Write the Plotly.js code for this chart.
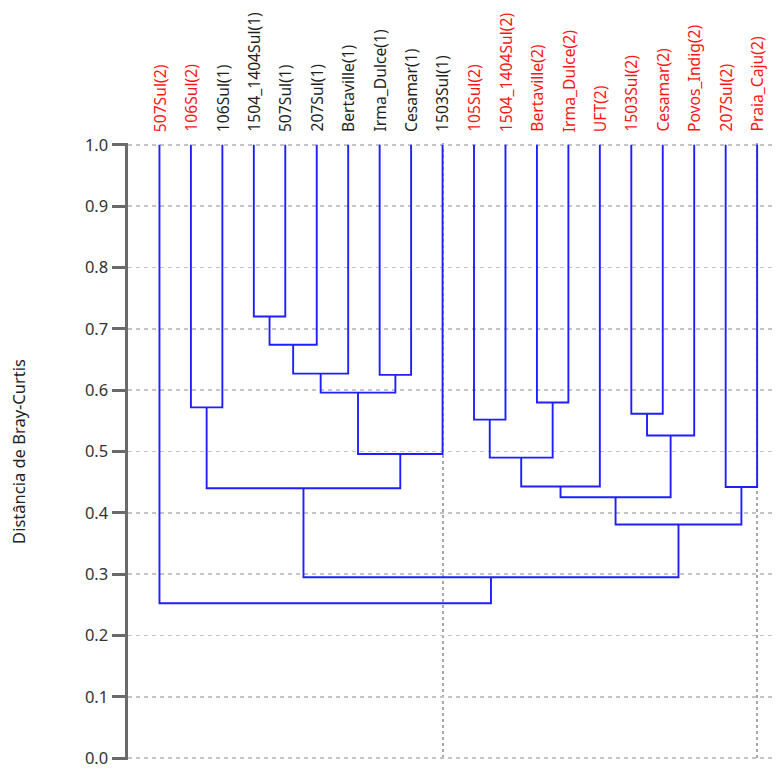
<!DOCTYPE html>
<html>
<head>
<meta charset="utf-8">
<script src="https://cdn.plot.ly/plotly-3.0.1.min.js"></script>
<style>html,body{margin:0;padding:0;background:#fff;}#chart{width:776px;height:769px;}</style>
</head>
<body>
<div id="chart"></div>
<script>
// Leaf labels in dendrogram order
const leafLabels = [
  "507Sul(2)", "106Sul(2)", "106Sul(1)", "1504_1404Sul(1)", "507Sul(1)",
  "207Sul(1)", "Bertaville(1)", "Irma_Dulce(1)", "Cesamar(1)", "1503Sul(1)",
  "105Sul(2)", "1504_1404Sul(2)", "Bertaville(2)", "Irma_Dulce(2)", "UFT(2)",
  "1503Sul(2)", "Cesamar(2)", "Povos_Indig(2)", "207Sul(2)", "Praia_Caju(2)"
];
// Linkage: node ids 0..19 are leaves, merge k creates node 20+k
const mergeLeft   = [3, 20, 21, 7, 22, 24, 1, 26, 10, 12, 28, 30, 15, 32, 31, 18, 34, 27, 0];
const mergeRight  = [4, 5, 6, 8, 23, 9, 2, 25, 11, 13, 29, 14, 16, 17, 33, 19, 35, 36, 37];
const mergeHeight = [0.72, 0.674, 0.627, 0.625, 0.596, 0.496, 0.572, 0.44, 0.552, 0.58, 0.49, 0.443, 0.5615, 0.526, 0.4255, 0.442, 0.381, 0.295, 0.2525];
const leafHeight = 1.0;
const yTicks = [0, 0.1, 0.2, 0.3, 0.4, 0.5, 0.6, 0.7, 0.8, 0.9, 1.0];

const n = leafLabels.length;
const nodeX = [], nodeY = [];
for (let i = 0; i < n; i++) { nodeX.push(i + 1); nodeY.push(leafHeight); }
const lx = [], ly = [];
for (let k = 0; k < mergeLeft.length; k++) {
  const a = mergeLeft[k], b = mergeRight[k], h = mergeHeight[k];
  lx.push(nodeX[a], nodeX[a], nodeX[b], nodeX[b], null);
  ly.push(nodeY[a], h, h, nodeY[b], null);
  nodeX.push((nodeX[a] + nodeX[b]) / 2);
  nodeY.push(h);
}

const FONT = "Noto Sans, Open Sans, sans-serif";
const traces = [{
  x: lx, y: ly, type: "scatter", mode: "lines",
  line: {color: "#1f1fff", width: 1.9},
  hoverinfo: "skip", cliponaxis: false, showlegend: false
}];

const annotations = leafLabels.map((lab, i) => ({
  x: i + 1, y: leafHeight, xref: "x", yref: "y",
  text: lab, textangle: -90, showarrow: false,
  xanchor: "center", yanchor: "bottom", yshift: 11,
  font: {family: FONT, size: 15.7, color: /\(2\)$/.test(lab) ? "#ff1414" : "#1e1e1e"}
}));

const layout = {
  width: 776, height: 769,
  margin: {l: 128, r: 0, t: 143, b: 9},
  paper_bgcolor: "#fff", plot_bgcolor: "#fff",
  showlegend: false,
  xaxis: {
    range: [0, 20.6], showticklabels: false, ticks: "",
    showgrid: true, tick0: 0, dtick: 10, griddash: "dot",
    gridcolor: "#a8a8a8", gridwidth: 2, zeroline: false, showline: false,
    fixedrange: true
  },
  yaxis: {
    range: [-0.003, 1.003], tickvals: yTicks, tickformat: ".1f",
    ticks: "outside", ticklen: 13, tickwidth: 3, tickcolor: "#6a6a6a",
    ticklabeloverflow: "allow",
    showline: true, linecolor: "#6a6a6a", linewidth: 3.5,
    showgrid: true, gridcolor: "#c4c4c4", gridwidth: 1.5, griddash: "4px,4px",
    zeroline: false,
    tickfont: {family: FONT, size: 16.5, color: "#333"},
    title: {text: "Distância de Bray-Curtis", standoff: 56, font: {family: FONT, size: 16.5, color: "#222"}},
    fixedrange: true
  },
  annotations: annotations
};

Plotly.newPlot("chart", traces, layout, {displayModeBar: false, staticPlot: true});
</script>
</body>
</html>
